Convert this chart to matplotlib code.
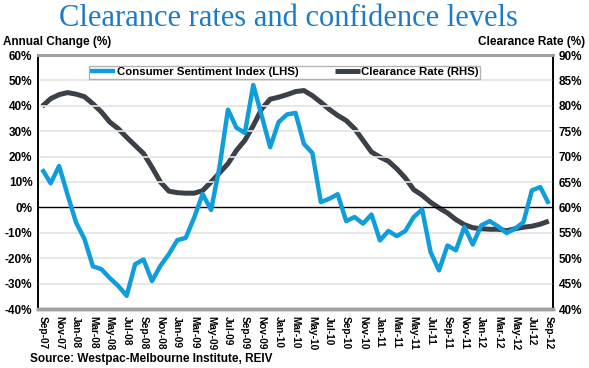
import numpy as np
import matplotlib.pyplot as plt
import matplotlib.ticker as mticker

# monthly, Sep-07 .. Sep-12
months = ['Sep-07', 'Oct-07', 'Nov-07', 'Dec-07', 'Jan-08', 'Feb-08', 'Mar-08', 'Apr-08',
          'May-08', 'Jun-08', 'Jul-08', 'Aug-08', 'Sep-08', 'Oct-08', 'Nov-08', 'Dec-08',
          'Jan-09', 'Feb-09', 'Mar-09', 'Apr-09', 'May-09', 'Jun-09', 'Jul-09', 'Aug-09',
          'Sep-09', 'Oct-09', 'Nov-09', 'Dec-09', 'Jan-10', 'Feb-10', 'Mar-10', 'Apr-10',
          'May-10', 'Jun-10', 'Jul-10', 'Aug-10', 'Sep-10', 'Oct-10', 'Nov-10', 'Dec-10',
          'Jan-11', 'Feb-11', 'Mar-11', 'Apr-11', 'May-11', 'Jun-11', 'Jul-11', 'Aug-11',
          'Sep-11', 'Oct-11', 'Nov-11', 'Dec-11', 'Jan-12', 'Feb-12', 'Mar-12', 'Apr-12',
          'May-12', 'Jun-12', 'Jul-12', 'Aug-12', 'Sep-12']

sentiment = [15, 9.5, 16.3, 5, -5.9, -12.4, -23.2, -24.3, -27.8, -30.9, -34.8, -22.4,
             -20.5, -29, -23, -18.4, -12.9, -12, -4, 5.3, -1, 15.9, 38.5, 31.4,
             29.3, 48.2, 36, 23.7, 33.6, 36.6, 37.2, 25, 21.4, 2.1, 3.4, 5.2,
             -5.4, -3.8, -6.4, -2.8, -13, -9.3, -11.3, -9.3, -3.8, -0.8, -17.6, -24.8,
             -15, -16.9, -7.7, -14.6, -7.1, -5.4, -7.5, -10.1, -8.4, -5.8, 6.7, 8, 1.4]

clearance = [79.9, 81.4, 82.2, 82.6, 82.3, 81.8, 80.4, 78.8, 76.8, 75.5, 73.8, 72.2,
             70.6, 67.9, 65, 63.2, 62.9, 62.8, 62.8, 63.3, 65, 66.8, 68.6, 71.2,
             73.2, 76.1, 79.4, 81.3, 81.7, 82.2, 82.8, 83, 82, 80.7, 79.3, 78.1,
             77.1, 75.5, 73.2, 70.9, 69.9, 69.1, 67.6, 65.8, 63.5, 62.4, 61, 59.9,
             58.9, 57.6, 56.6, 56, 55.8, 55.7, 55.7, 55.4, 55.8, 56.1, 56.3, 56.7, 57.3]

blue = '#109ddb'
dark = '#3b4049'

plt.rcParams['font.family'] = ['Liberation Sans', 'DejaVu Sans']

fig = plt.figure(figsize=(5.89, 3.68), dpi=100)
ax = fig.add_axes([38/589, 1-309/368, (553-38)/589, (309-55)/368])
ax2 = ax.twinx()

x = np.arange(len(months))
ax.set_xlim(-0.5, len(months)-0.5)
ax.set_ylim(-40, 60)
ax2.set_ylim(40, 90)

for v in range(-30, 60, 10):
    if v != 0:
        ax.axhline(v, color='#e3e3e3', lw=1.2, zorder=0)
ax.axhline(0, color='black', lw=1, zorder=1)

l2, = ax2.plot(x, clearance, color=dark, lw=3.6, solid_capstyle='butt', label='Clearance Rate (RHS)')
l1, = ax.plot(x, sentiment, color=blue, lw=3.2, solid_capstyle='butt', label='Consumer Sentiment Index (LHS)')
ax.set_zorder(ax2.get_zorder() + 1)
ax.patch.set_visible(False)

ax.yaxis.set_major_formatter(mticker.FuncFormatter(lambda v, p: f'{v:.0f}%'))
ax2.yaxis.set_major_formatter(mticker.FuncFormatter(lambda v, p: f'{v:.0f}%'))
ax.set_yticks(range(-40, 70, 10))
ax2.set_yticks(range(40, 95, 5))
ax.set_xticks(x[::2])
ax.set_xticklabels(months[::2], rotation=-90, fontsize=7.3, fontweight='bold')
for t in ax.get_yticklabels():
    t.set_fontsize(8.5)
    t.set_fontweight('bold')
for t in ax2.get_yticklabels():
    t.set_fontsize(8.5)
    t.set_fontweight('bold')
ax.tick_params(length=0, pad=4)
ax2.tick_params(length=0, pad=4)
ax.tick_params(axis='x', pad=5)

for a in (ax, ax2):
    a.spines['top'].set_color('#a0a0a0')
    a.spines['top'].set_linewidth(2)
    a.spines['bottom'].set_color('#a0a0a0')
    a.spines['bottom'].set_linewidth(2.5)
    a.spines['left'].set_linewidth(1.2)
    a.spines['right'].set_linewidth(1.2)

leg = ax.legend(handles=[l1, l2], loc='upper left', bbox_to_anchor=(45/515, 0.98), ncol=2,
                frameon=True, fancybox=False, handlelength=2.2,
                handletextpad=0.1, columnspacing=3.2, borderpad=0.15,
                prop={'weight': 'bold', 'size': 8.2})
leg.get_frame().set_edgecolor('#a0a0a0')
leg.get_frame().set_linewidth(1)

fig.text(288/589, 1-4/368, 'Clearance rates and confidence levels', ha='center', va='top',
         fontsize=22, color='#1f7ac6', family='Liberation Serif')
fig.text(3/589, 1-42/368, 'Annual Change (%)', ha='left', va='center', fontsize=8.5, fontweight='bold')
fig.text(585/589, 1-42/368, 'Clearance Rate (%)', ha='right', va='center', fontsize=8.5, fontweight='bold')
fig.text(30/589, 1-359/368, 'Source: Westpac-Melbourne Institute, REIV', ha='left', va='center',
         fontsize=8.5, fontweight='bold')

fig.savefig('out.png', dpi=100)
